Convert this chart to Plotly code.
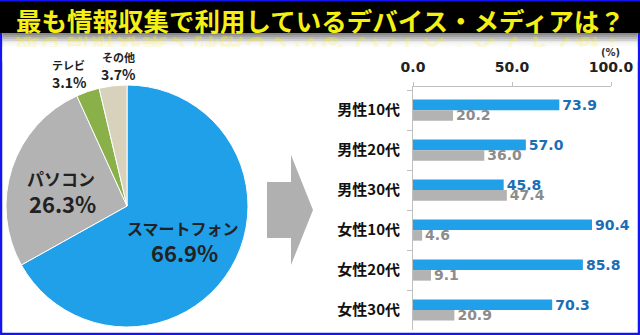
import plotly.graph_objects as go

W, H = 640, 335

title = "最も情報収集で利用しているデバイス・メディアは？"

pie_labels = ["スマートフォン", "パソコン", "テレビ", "その他"]
pie_values = [66.9, 26.3, 3.1, 3.7]
pie_colors = ["#1fa0e8", "#b3b3b3", "#8ab04a", "#d8d2bc"]

groups = ["男性10代", "男性20代", "男性30代", "女性10代", "女性20代", "女性30代"]
smartphone = [73.9, 57.0, 45.8, 90.4, 85.8, 70.3]
pc = [20.2, 36.0, 47.4, 4.6, 9.1, 20.9]
x_ticks = [0, 50, 100]


def px(x):
    return x / W


def py(y):
    return 1 - y / H


JP = "Noto Sans CJK JP"
NUM = "DejaVu Sans"

fig = go.Figure()

fig.add_trace(go.Pie(
    labels=pie_labels, values=pie_values, sort=False, direction="clockwise",
    rotation=0, textinfo="none", hoverinfo="skip",
    marker=dict(colors=pie_colors, line=dict(color="white", width=1)),
    domain=dict(x=[px(6), px(248)], y=[py(327), py(85)]),
    showlegend=False,
))

fig.add_trace(go.Bar(
    y=groups, x=smartphone, orientation="h", marker=dict(color="#1fa0e8", line=dict(width=0)),
    texttemplate="%{x:.1f}", textposition="outside", cliponaxis=False, constraintext="none",
    textfont=dict(family=NUM, size=14, color="#1a6eb4", weight="bold"),
    hoverinfo="skip", showlegend=False, xaxis="x", yaxis="y",
))
fig.add_trace(go.Bar(
    y=groups, x=pc, orientation="h", marker=dict(color="#b3b3b3", line=dict(width=0)),
    texttemplate="%{x:.1f}", textposition="outside", cliponaxis=False, constraintext="none",
    textfont=dict(family=NUM, size=14, color="#8c8c8c", weight="bold"),
    hoverinfo="skip", showlegend=False, xaxis="x", yaxis="y",
))

fig.update_layout(
    template="none",
    width=W, height=H, margin=dict(l=0, r=0, t=0, b=0, pad=0, autoexpand=False),
    paper_bgcolor="white", plot_bgcolor="rgba(0,0,0,0)",
    barmode="group", bargap=0.47, bargroupgap=0,
    xaxis=dict(domain=[px(413), px(611)], range=[0, 100], side="top", anchor="y",
               automargin=False,
               tickvals=x_ticks, tickformat=".1f", showgrid=False, zeroline=False,
               showline=True, linecolor="#c0c0c0", linewidth=1,
               ticks="outside", ticklen=4, tickcolor="#c0c0c0",
               tickfont=dict(family=NUM, size=14, color="#222", weight="bold"),
               ticklabelstandoff=4),
    yaxis=dict(domain=[py(330), py(87)], range=[5.5, -0.58], anchor="x", type="category",
               automargin=False,
               showgrid=False, zeroline=False, showline=True, linecolor="#c0c0c0", linewidth=1,
               ticks="outside", ticklen=5, tickcolor="#c0c0c0", tickson="boundaries",
               tickfont=dict(family=JP, size=15, color="#111", weight="bold"),
               ticklabelstandoff=9),
)

shapes = []
# border
shapes.append(dict(type="rect", xref="paper", yref="paper", x0=px(1), x1=px(639), y0=py(334), y1=py(1),
                   line=dict(color="#1414f0", width=2.5), fillcolor="rgba(0,0,0,0)", layer="above"))
# black banner
shapes.append(dict(type="rect", xref="paper", yref="paper", x0=0, x1=1, y0=py(33), y1=1,
                   line=dict(width=0), fillcolor="black", layer="above"))
shapes.append(dict(type="line", xref="paper", yref="paper", x0=0, x1=1, y0=py(0.7), y1=py(0.7),
                   line=dict(color="#1414f0", width=1.5), layer="above"))
# reflection gradient
grad = ["#8a8a8a", "#a0a0a0", "#b8b8b8", "#cfcfcf", "#e2e2e2", "#f0f0f0", "#f9f9f9"]
for i, c in enumerate(grad):
    y0 = 33 + i * 2
    shapes.append(dict(type="rect", xref="paper", yref="paper", x0=px(2.5), x1=px(637.5),
                       y0=py(y0 + 2), y1=py(y0), line=dict(width=0), fillcolor=c, layer="below"))
# arrow
arrow = [(267, 182), (291, 182), (291, 155), (313, 210), (291, 265), (291, 238), (267, 238)]
path = "M " + " L ".join(f"{px(x):.5f},{py(y):.5f}" for x, y in arrow) + " Z"
shapes.append(dict(type="path", xref="paper", yref="paper", path=path,
                   fillcolor="#b0b0b0", line=dict(width=0), layer="below"))
fig.update_layout(shapes=shapes)

ann = []


def A(**kw):
    d = dict(xref="paper", yref="paper", showarrow=False, xanchor="center", yanchor="middle",
             borderpad=0)
    d.update(kw)
    ann.append(d)


# reflection text (faint, upside down)
A(text=title[::-1], x=px(320), y=py(50), textangle=180, opacity=0.4,
  font=dict(family=JP, size=25.5, color="#f0e830", weight="bold"))
# fade/cover boxes
A(text="", x=px(320), y=py(44), width=634, height=4, bgcolor="white", opacity=0.5)
A(text="", x=px(320), y=py(54), width=634, height=14, bgcolor="white", opacity=1)
# title
A(text=title, x=px(320), y=1, yanchor="top",
  font=dict(family=JP, size=25.5, color="#f5f014", weight="bold"))


def lab(t, x, y, s):
    A(text=t, x=px(x), y=py(y), font=dict(family=JP, size=s, color="#222", weight="bold"))


lab(pie_labels[0], 183, 228, 16)
lab(f"{pie_values[0]:.1f}%", 184, 252, 22)
lab(pie_labels[1], 61, 178, 17)
lab(f"{pie_values[1]:.1f}%", 62, 203, 22)
lab(pie_labels[2], 68, 65, 11)
lab(f"{pie_values[2]:.1f}%", 69, 82, 14)
lab(pie_labels[3], 118, 57, 11)
lab(f"{pie_values[3]:.1f}%", 118, 74, 14)

A(text="(%)", x=px(610), y=py(52), font=dict(family=NUM, size=10, color="#333", weight="bold"))

fig.update_layout(annotations=ann)

fig.write_html("out.html")
